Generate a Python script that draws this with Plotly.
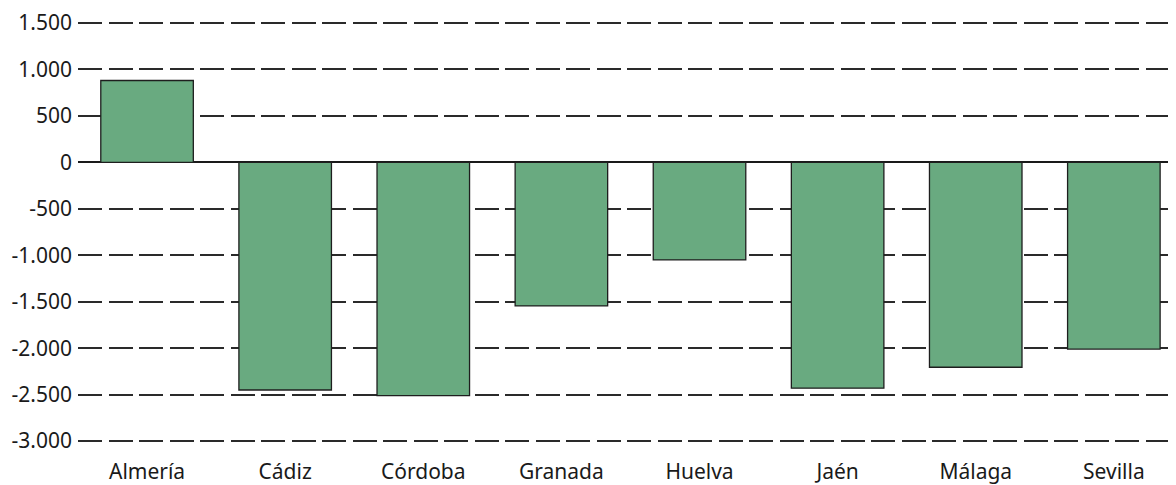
import plotly.graph_objects as go

categories = ["Almería", "Cádiz", "Córdoba", "Granada", "Huelva", "Jaén", "Málaga", "Sevilla"]
values = [880, -2450, -2510, -1545, -1050, -2430, -2205, -2010]
y_tick_vals = [1500, 1000, 500, 0, -500, -1000, -1500, -2000, -2500, -3000]
y_tick_text = ["1.500", "1.000", "500", "0", "-500", "-1.000", "-1.500", "-2.000", "-2.500", "-3.000"]

FONT = "Noto Sans"
FS = 21

fig = go.Figure()
fig.add_trace(go.Bar(
    x=list(range(len(categories))),
    y=values,
    width=0.67,
    marker=dict(color="#69aa80", line=dict(color="#1e1e1e", width=1.3)),
    hoverinfo="skip",
))

# page body has an 8px default margin, so figure is shifted by 8px
fig.update_layout(
    width=1168,
    height=477,
    margin=dict(l=70, r=0, t=9, b=41),
    paper_bgcolor="white",
    plot_bgcolor="white",
    showlegend=False,
    font=dict(family=FONT, size=FS, color="#1a1a1a"),
    xaxis=dict(
        range=[-0.5, 7.45],
        tickvals=list(range(len(categories))),
        ticktext=categories,
        showgrid=False,
        zeroline=False,
        showline=False,
        ticks="",
        ticklabelstandoff=14,
        tickfont=dict(family=FONT, size=FS, color="#1a1a1a"),
    ),
    yaxis=dict(
        range=[-3020, 1520],
        tickvals=y_tick_vals,
        ticktext=y_tick_text,
        showgrid=True,
        gridcolor="#2a2a2a",
        gridwidth=1.5,
        griddash="24px,6.5px",
        zeroline=True,
        zerolinecolor="#1a1a1a",
        zerolinewidth=1.5,
        showline=False,
        ticks="",
        ticklabelstandoff=5,
        ticklabeloverflow="allow",
        tickfont=dict(family=FONT, size=FS, color="#1a1a1a"),
    ),
)

fig.write_html("out.html")
